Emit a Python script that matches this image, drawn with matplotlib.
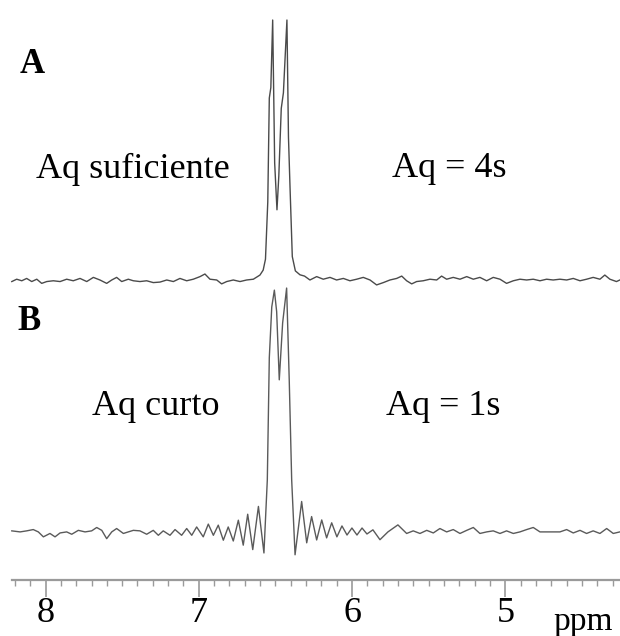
import numpy as np
import matplotlib
matplotlib.use("Agg")
from matplotlib import pyplot as plt
from matplotlib.ticker import MultipleLocator, FixedLocator

plt.rcParams['font.family'] = ['Liberation Serif', 'DejaVu Serif']

# spectrum A (Aq = 4s): chemical shift (ppm) and intensity (a.u., tallest line = 100)
ppm_a = [8.220, 8.188, 8.155, 8.123, 8.090, 8.057, 8.025, 7.992, 7.949, 7.905,
         7.862, 7.819, 7.775, 7.731, 7.688, 7.645, 7.601, 7.568, 7.536, 7.503,
         7.460, 7.427, 7.384, 7.340, 7.297, 7.253, 7.209, 7.166, 7.123, 7.079,
         7.036, 6.992, 6.960, 6.927, 6.883, 6.851, 6.818, 6.775, 6.731, 6.688,
         6.644, 6.601, 6.580, 6.565, 6.550, 6.540, 6.530, 6.518, 6.505, 6.490,
         6.478, 6.462, 6.448, 6.425, 6.415, 6.405, 6.390, 6.370, 6.340, 6.310,
         6.275, 6.231, 6.188, 6.144, 6.101, 6.057, 6.014, 5.970, 5.927, 5.883,
         5.840, 5.796, 5.753, 5.709, 5.676, 5.644, 5.611, 5.579, 5.536, 5.492,
         5.448, 5.416, 5.383, 5.340, 5.296, 5.252, 5.209, 5.166, 5.122, 5.079,
         5.035, 4.992, 4.948, 4.905, 4.861, 4.818, 4.774, 4.731, 4.688, 4.644,
         4.600, 4.557, 4.513, 4.470, 4.427, 4.383, 4.351, 4.318, 4.275, 4.253]
int_a = [-0.6, 0.3, -0.3, 0.6, -0.6, 0.3, -1.3, -0.6, -0.3, -0.6,
         0.3, -0.3, 0.6, -0.6, 1.0, 0.0, -1.3, 0.0, 1.0, -0.6,
         0.3, -0.3, -0.6, -0.3, -1.0, -0.8, 0.0, -0.6, 0.6, -0.3,
         0.3, 1.3, 2.3, 0.3, 0.0, -1.5, -0.6, 0.0, -0.6, 0.0,
         0.3, 1.9, 3.8, 8.0, 30.0, 70.0, 74.0, 100.0, 45.0, 27.0,
         40.0, 66.0, 72.0, 100.0, 55.0, 36.0, 9.0, 3.5, 2.0, 1.5,
         0.0, 1.3, 0.3, 1.0, 0.0, 0.6, -0.3, 0.3, 1.0, 0.0,
         -1.9, -1.0, 0.0, 0.6, 1.5, -0.3, -1.5, -0.6, -0.3, 0.3,
         0.0, 1.5, 0.3, 1.0, 0.3, 1.3, 0.3, 1.0, -0.3, 1.0,
         0.3, -1.3, -0.3, 0.3, 0.0, 0.3, -0.3, 0.3, 0.0, 0.3,
         0.0, 0.6, -0.3, 0.3, 1.0, 0.3, 1.9, 0.3, -0.6, 0.0]

# spectrum B (Aq = 1s): truncated FID gives sinc wiggles around the lines
ppm_b = [8.220, 8.166, 8.123, 8.080, 8.047, 8.014, 7.971, 7.938, 7.905, 7.862,
         7.829, 7.786, 7.742, 7.699, 7.666, 7.633, 7.601, 7.568, 7.536, 7.492,
         7.460, 7.427, 7.384, 7.340, 7.297, 7.264, 7.232, 7.188, 7.155, 7.112,
         7.079, 7.046, 7.014, 6.971, 6.938, 6.905, 6.873, 6.840, 6.808, 6.775,
         6.742, 6.710, 6.681, 6.648, 6.611, 6.575, 6.553, 6.540, 6.524, 6.507,
         6.492, 6.475, 6.453, 6.427, 6.410, 6.394, 6.372, 6.329, 6.296, 6.264,
         6.231, 6.198, 6.166, 6.133, 6.099, 6.066, 6.033, 6.001, 5.968, 5.935,
         5.903, 5.864, 5.818, 5.766, 5.701, 5.644, 5.601, 5.557, 5.513, 5.470,
         5.427, 5.383, 5.340, 5.296, 5.252, 5.209, 5.166, 5.122, 5.079, 5.035,
         4.992, 4.948, 4.905, 4.861, 4.818, 4.774, 4.731, 4.688, 4.644, 4.600,
         4.557, 4.513, 4.470, 4.427, 4.383, 4.339, 4.296, 4.253]
int_b = [0.4, 0.0, 0.4, 0.9, 0.0, -1.9, -0.6, -1.9, -0.4, 0.0,
         -0.9, 0.6, 0.0, 0.4, 1.7, 0.6, -2.6, 0.0, 1.3, -0.6,
         0.0, 0.6, 0.4, -0.9, 0.6, -1.3, 0.4, -1.3, 0.9, -1.3,
         1.3, -1.3, 1.9, -1.9, 3.0, -1.3, 2.6, -3.2, 1.9, -3.5,
         4.5, -5.1, 6.8, -6.8, 9.8, -8.1, 20.0, 67.0, 86.5, 93.0,
         84.7, 58.5, 80.4, 93.8, 58.5, 20.0, -8.8, 11.7, -4.2, 5.9,
         -3.1, 4.6, -2.3, 3.5, -1.9, 2.3, -1.2, 1.5, -1.2, 1.5,
         -0.8, 0.8, -3.0, 0.0, 2.7, -0.6, 0.4, -0.6, 0.6, -0.4,
         1.3, 0.0, 0.9, -0.6, 0.6, 1.7, -0.6, 0.0, 0.4, -0.6,
         0.4, -0.6, 0.0, 0.9, 1.7, 0.0, 0.0, 0.0, 0.0, 0.9,
         -0.4, 0.6, -0.6, 0.4, -0.6, 1.3, -0.6, 0.0]

major_ticks = [8, 7, 6, 5]
labels = [("A", "Aq suficiente", "Aq = 4s"), ("B", "Aq curto", "Aq = 1s")]

W, H = 620, 636
fig = plt.figure(figsize=(W / 100, H / 100), dpi=100)
ax = fig.add_axes([0, (H - 580) / H, 1, 580 / H])

# vertical stacking of the two traces (in intensity units)
off_a = 115.4
off_b = 18.5
ax.plot(ppm_a, np.array(int_a) + off_a, color="#4a4a4a", lw=1.0)
ax.plot(ppm_b, np.array(int_b) + off_b, color="#5a5a5a", lw=1.0)

ax.set_xlim(8.297, 4.252)
ax.set_ylim(0, 223.1)

for s in ["left", "right", "top"]:
    ax.spines[s].set_visible(False)
ax.spines["bottom"].set_color("#9a9a9a")
ax.spines["bottom"].set_linewidth(1.6)
ax.spines["bottom"].set_bounds(8.22, 4.252)
ax.set_yticks([])
ax.xaxis.set_major_locator(FixedLocator(major_ticks))
ax.xaxis.set_minor_locator(MultipleLocator(0.1))
ax.tick_params(axis="x", which="major", length=12, width=1.2, color="#9a9a9a",
               pad=0, labelsize=26, labelcolor="black")
ax.tick_params(axis="x", which="minor", length=4.3, width=1.0, color="#9a9a9a")
ax.set_xticklabels([str(t) for t in major_ticks])

def px(x, y):
    return x / W, 1 - y / H

fig.text(*px(553, 630), "ppm", fontsize=24, va="baseline", ha="left")

pos = [((20, 73), (36, 178), (392, 177)), ((17, 330), (92, 415), (386, 415))]
for (letter, left, right), (p0, p1, p2) in zip(labels, pos):
    fig.text(*px(*p0), letter, fontsize=25, fontweight="bold", va="baseline")
    fig.text(*px(*p1), left, fontsize=26, va="baseline")
    fig.text(*px(*p2), right, fontsize=26, va="baseline")

fig.savefig("out.png", dpi=100)
